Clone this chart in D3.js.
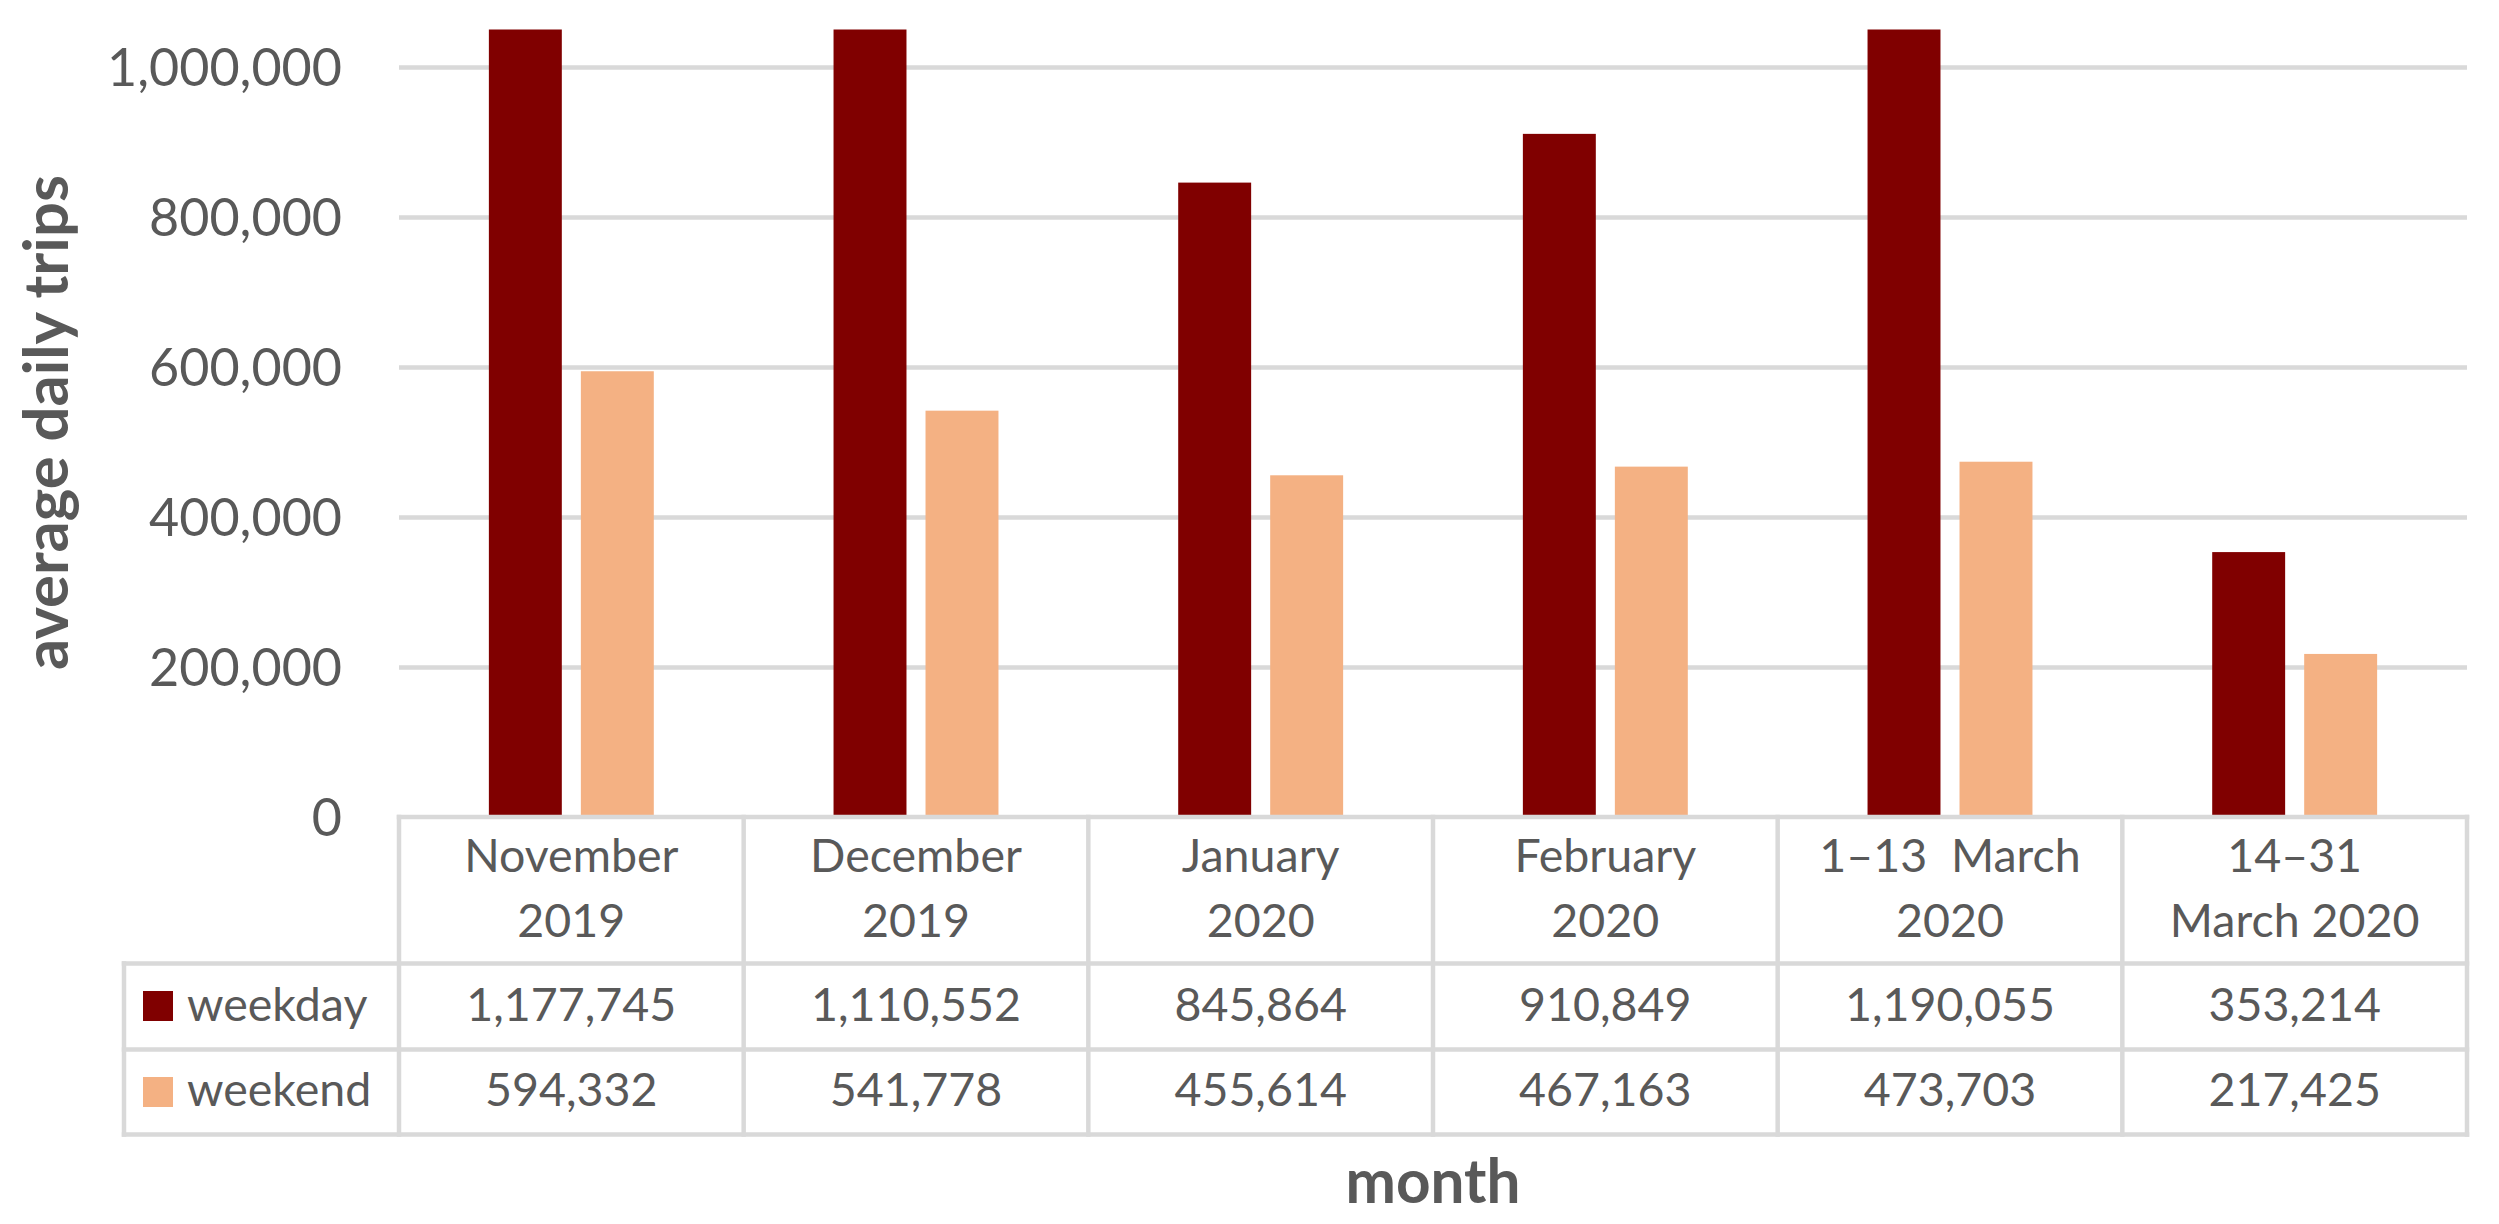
<!DOCTYPE html>
<html>
<head>
<meta charset="utf-8">
<script src="https://cdn.jsdelivr.net/npm/d3@7"></script>
<style>
  html, body { margin: 0; padding: 0; background: #ffffff; }
  svg { display: block; }
  text { font-family: Lato, Carlito, "Open Sans", sans-serif; fill: #595959; }
</style>
</head>
<body>
<svg id="chart" width="2499" height="1224"></svg>
<script>
// ---- data ----
const categoryLine1 = ["November", "December", "January", "February", "1\u201313\u00A0\u00A0March", "14\u201331"];
const categoryLine2 = ["2019", "2019", "2020", "2020", "2020", "March 2020"];
const seriesNames = ["weekday", "weekend"];
const weekdayValues = [1177745, 1110552, 845864, 910849, 1190055, 353214];
const weekendValues = [594332, 541778, 455614, 467163, 473703, 217425];
const yTickValues = [0, 200000, 400000, 600000, 800000, 1000000];
const seriesColors = ["#800000", "#F4B183"];
const yTitle = "average daily trips";
const xTitle = "month";

// ---- layout ----
const W = 2499, H = 1224;
const plotLeft = 399, plotRight = 2467, plotTop = 29.5, plotBottom = 817;
const legendLeft = 124;
const headerBottom = 963.5, row1Bottom = 1049.5, row2Bottom = 1134.5;
const lineColor = "#D9D9D9";
const lineW = 4.5;

const svg = d3.select("#chart");
svg.append("rect").attr("width", W).attr("height", H).attr("fill", "#fff");

function fitSize(str, weight, target) {
  const t = svg.append("text").attr("font-size", 100).attr("font-weight", weight).text(str);
  const len = t.node().getComputedTextLength();
  t.remove();
  return 100 * target / len;
}
const tickFont = fitSize("1,000,000", 400, 235);
const tableFont = fitSize("1,177,745", 400, 210);
const yTitleFont = fitSize(yTitle, 700, 495);
const xTitleFont = fitSize(xTitle, 700, 175);

const idx = d3.range(categoryLine1.length);
const x0 = d3.scaleBand().domain(idx).range([plotLeft, plotRight]).padding(0);
const x1 = d3.scaleBand().domain(seriesNames).range([0, x0.bandwidth()])
  .paddingInner(0.207).paddingOuter(0.977);
const y = d3.scaleLinear().domain([0, 1050000]).range([plotBottom, plotTop]);
const color = d3.scaleOrdinal().domain(seriesNames).range(seriesColors);

// gridlines
const grid = svg.append("g").attr("transform", `translate(${plotLeft},0)`)
  .call(d3.axisLeft(y).tickValues(yTickValues.filter(d => d > 0))
    .tickSize(-(plotRight - plotLeft)).tickFormat(""));
grid.select(".domain").remove();
grid.selectAll("line").attr("stroke", lineColor).attr("stroke-width", lineW);

// y tick labels
const yAxis = svg.append("g").attr("transform", `translate(${plotLeft},0)`)
  .call(d3.axisLeft(y).tickValues(yTickValues).tickFormat(d3.format(","))
    .tickSize(0).tickPadding(plotLeft - 342));
yAxis.select(".domain").remove();
yAxis.selectAll("text")
  .attr("font-size", tickFont)
  .attr("font-family", "Lato, Carlito, sans-serif")
  .attr("fill", "#595959")
  .attr("dy", "0.36em");

// bars (clipped to plot area)
svg.append("clipPath").attr("id", "plotClip").append("rect")
  .attr("x", plotLeft).attr("y", plotTop)
  .attr("width", plotRight - plotLeft).attr("height", plotBottom - plotTop);

const seriesData = [weekdayValues, weekendValues];
const barG = svg.append("g").attr("clip-path", "url(#plotClip)");
idx.forEach(i => {
  seriesNames.forEach((s, si) => {
    const v = seriesData[si][i];
    barG.append("rect")
      .attr("x", x0(i) + x1(s))
      .attr("width", x1.bandwidth())
      .attr("y", y(v))
      .attr("height", y(0) - y(v))
      .attr("fill", color(s));
  });
});

// data table lines
const tl = svg.append("g").attr("stroke", lineColor).attr("stroke-width", lineW)
  .attr("stroke-linecap", "square");
function hline(x1_, x2_, yy) { tl.append("line").attr("x1", x1_).attr("x2", x2_).attr("y1", yy).attr("y2", yy); }
function vline(xx, y1_, y2_) { tl.append("line").attr("x1", xx).attr("x2", xx).attr("y1", y1_).attr("y2", y2_); }
hline(plotLeft, plotRight, y(0));
hline(legendLeft, plotRight, headerBottom);
hline(legendLeft, plotRight, row1Bottom);
hline(legendLeft, plotRight, row2Bottom);
vline(legendLeft, headerBottom, row2Bottom);
idx.forEach(i => vline(x0(i), y(0), row2Bottom));
vline(plotRight, y(0), row2Bottom);

// header (category) text
const fmt = d3.format(",");
idx.forEach(i => {
  const cx = x0(i) + x0.bandwidth() / 2;
  svg.append("text").attr("x", cx).attr("y", 872).attr("text-anchor", "middle")
    .attr("font-size", tableFont).text(categoryLine1[i]);
  svg.append("text").attr("x", cx).attr("y", 937).attr("text-anchor", "middle")
    .attr("font-size", tableFont).text(categoryLine2[i]);
  svg.append("text").attr("x", cx).attr("y", 1021).attr("text-anchor", "middle")
    .attr("font-size", tableFont).text(fmt(weekdayValues[i]));
  svg.append("text").attr("x", cx).attr("y", 1106).attr("text-anchor", "middle")
    .attr("font-size", tableFont).text(fmt(weekendValues[i]));
});

// legend keys in table
const legendRows = [{ top: headerBottom, base: 1021 }, { top: row1Bottom, base: 1106 }];
seriesNames.forEach((s, si) => {
  svg.append("rect").attr("x", 143).attr("y", legendRows[si].top + 27.5)
    .attr("width", 30).attr("height", 30).attr("fill", color(s));
  svg.append("text").attr("x", 187).attr("y", legendRows[si].base)
    .attr("font-size", tableFont).text(s);
});

// axis titles
svg.append("text")
  .attr("transform", "translate(68,422.5) rotate(-90)")
  .attr("text-anchor", "middle").attr("font-weight", 700)
  .attr("font-size", yTitleFont).text(yTitle);
svg.append("text")
  .attr("x", (plotLeft + plotRight) / 2).attr("y", 1203)
  .attr("text-anchor", "middle").attr("font-weight", 700)
  .attr("font-size", xTitleFont).text(xTitle);
</script>
</body>
</html>
